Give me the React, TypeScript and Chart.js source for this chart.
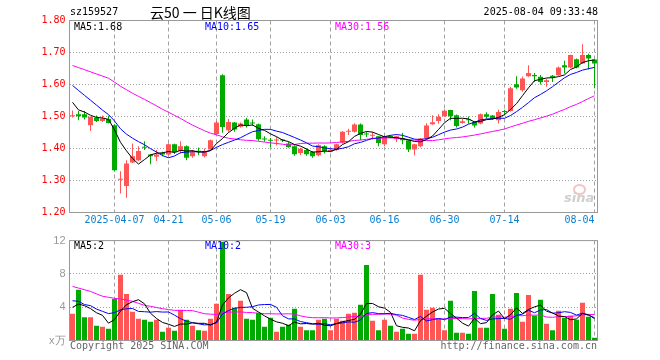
import React, { useEffect, useRef } from 'react';
import { Chart, registerables } from 'chart.js';

Chart.register(...registerables);

// ---- data ----
const dates = [
  '2025-03-26','2025-03-27','2025-03-28','2025-03-31','2025-04-01','2025-04-02','2025-04-03','2025-04-07',
  '2025-04-08','2025-04-09','2025-04-10','2025-04-11','2025-04-14','2025-04-15','2025-04-16','2025-04-17',
  '2025-04-21','2025-04-22','2025-04-23','2025-04-24','2025-04-25','2025-04-28','2025-04-29','2025-04-30',
  '2025-05-06','2025-05-07','2025-05-08','2025-05-09','2025-05-12','2025-05-13','2025-05-14','2025-05-15',
  '2025-05-16','2025-05-19','2025-05-20','2025-05-21','2025-05-22','2025-05-23','2025-05-26','2025-05-27',
  '2025-05-28','2025-05-29','2025-05-30','2025-06-03','2025-06-04','2025-06-05','2025-06-06','2025-06-09',
  '2025-06-10','2025-06-11','2025-06-12','2025-06-13','2025-06-16','2025-06-17','2025-06-18','2025-06-19',
  '2025-06-20','2025-06-23','2025-06-24','2025-06-25','2025-06-26','2025-06-27','2025-06-30','2025-07-01',
  '2025-07-02','2025-07-03','2025-07-04','2025-07-07','2025-07-08','2025-07-09','2025-07-10','2025-07-11',
  '2025-07-14','2025-07-15','2025-07-16','2025-07-17','2025-07-18','2025-07-21','2025-07-22','2025-07-23',
  '2025-07-24','2025-07-25','2025-07-28','2025-07-29','2025-07-30','2025-07-31','2025-08-01','2025-08-04',
];

const tickDates = ['2025-04-07','2025-04-21','2025-05-06','2025-05-19','2025-06-03','2025-06-16','2025-06-30','2025-07-14','2025-08-04'];
const tickLabels = ['2025-04-07','04-21','05-06','05-19','06-03','06-16','06-30','07-14','08-04'];

const opens = [
  1.501,1.507,1.507,1.473,1.496,1.486,1.492,1.473,1.302,1.283,1.356,1.363,1.404,1.381,1.374,1.386,
  1.381,1.413,1.392,1.407,1.376,1.392,1.376,1.397,1.445,1.629,1.457,1.481,1.468,1.491,1.479,1.476,
  1.429,1.425,1.425,1.426,1.416,1.407,1.386,1.395,1.389,1.379,1.407,1.390,1.395,1.418,1.452,1.452,
  1.475,1.445,1.440,1.438,1.413,1.437,1.429,1.433,1.426,1.397,1.407,1.433,1.476,1.486,1.501,1.520,
  1.504,1.480,1.489,1.483,1.478,1.507,1.503,1.488,1.515,1.517,1.601,1.582,1.626,1.630,1.624,1.608,
  1.627,1.629,1.660,1.653,1.679,1.666,1.692,1.678,
];
const highs = [
  1.519,1.517,1.517,1.499,1.503,1.503,1.502,1.476,1.329,1.363,1.416,1.407,1.423,1.382,1.395,1.390,
  1.416,1.415,1.423,1.409,1.395,1.403,1.400,1.428,1.487,1.632,1.492,1.483,1.481,1.496,1.491,1.478,
  1.438,1.433,1.436,1.430,1.421,1.410,1.402,1.400,1.392,1.413,1.410,1.399,1.415,1.455,1.462,1.479,
  1.478,1.452,1.452,1.440,1.442,1.442,1.440,1.449,1.428,1.415,1.433,1.479,1.504,1.507,1.522,1.521,
  1.506,1.493,1.500,1.486,1.509,1.513,1.505,1.521,1.521,1.593,1.626,1.625,1.660,1.636,1.630,1.618,
  1.630,1.656,1.674,1.693,1.681,1.726,1.696,1.678,
];
const lows = [
  1.497,1.488,1.491,1.455,1.483,1.483,1.478,1.329,1.259,1.246,1.355,1.361,1.395,1.351,1.361,1.376,
  1.378,1.383,1.384,1.363,1.371,1.379,1.372,1.394,1.444,1.449,1.452,1.452,1.465,1.466,1.471,1.424,
  1.421,1.405,1.410,1.420,1.402,1.377,1.380,1.377,1.371,1.376,1.384,1.388,1.393,1.415,1.442,1.450,
  1.426,1.436,1.428,1.407,1.408,1.432,1.420,1.413,1.389,1.379,1.404,1.430,1.474,1.477,1.499,1.488,
  1.466,1.477,1.477,1.466,1.476,1.493,1.490,1.478,1.505,1.515,1.587,1.577,1.624,1.608,1.600,1.593,
  1.608,1.627,1.634,1.651,1.651,1.664,1.647,1.588,
];
const closes = [
  1.502,1.501,1.497,1.499,1.486,1.494,1.480,1.332,1.304,1.353,1.376,1.392,1.402,1.376,1.381,1.381,
  1.413,1.388,1.407,1.371,1.388,1.390,1.392,1.426,1.481,1.467,1.483,1.459,1.478,1.470,1.478,1.429,
  1.428,1.424,1.426,1.425,1.405,1.382,1.399,1.382,1.376,1.410,1.392,1.395,1.413,1.452,1.454,1.475,
  1.442,1.444,1.441,1.417,1.438,1.436,1.438,1.426,1.397,1.413,1.431,1.472,1.482,1.499,1.518,1.501,
  1.470,1.485,1.488,1.472,1.507,1.499,1.494,1.514,1.514,1.588,1.591,1.619,1.636,1.626,1.608,1.613,
  1.623,1.653,1.653,1.692,1.653,1.692,1.681,1.666,
];
const volumes = [
  3.2,6.1,2.8,2.8,1.76,1.64,1.4,4.97,7.9,5.6,3.44,2.6,2.48,2.24,2.48,1.04,
  1.52,1.16,3.68,2.48,1.76,1.24,1.16,2.6,4.4,11.85,5.6,3.92,4.76,2.6,2.48,3.32,
  1.64,2.72,1.04,1.64,1.88,3.8,1.64,1.24,1.24,2.48,2.6,1.24,2.6,2.36,3.2,3.32,
  4.28,9.08,2.36,1.24,2.48,1.76,1.04,1.4,0.8,0.8,7.9,3.68,3.92,2.6,1.24,4.76,
  0.92,0.92,0.8,5.96,1.52,1.52,5.6,3.08,1.4,3.8,5.72,2.24,5.48,2.96,4.88,2.0,
  1.24,3.56,2.72,2.96,2.48,4.52,2.84,0.32,
];
// closes / volumes of the 29 sessions before the first visible one (only feed the moving averages)
const priorCloses = [
  1.70,1.69,1.70,1.69,1.69,1.68,1.70,1.69,1.68,1.70,1.69,1.68,1.68,1.69,1.70,1.69,1.68,1.69,1.70,1.69,
  1.66,1.65,1.65,1.64,1.65,1.62,1.53,1.55,1.52,
];
const priorVolumes = [
  12.1,8.8,8.8,10.5,10.3,5.2,8.7,10.3,9.8,7.6,9.95,9.8,5.5,6.8,5.4,4.5,4.2,4.0,2.8,2.1,
  6.8,6.7,4.1,5.9,4.35,4.1,3.8,4.55,4.26,
];

// ---- helpers ----
function movingAverage(values: number[], prior: number[], n: number): number[] {
  const all = prior.concat(values);
  const P = prior.length;
  return values.map((_, i) => {
    let s = 0;
    for (let k = i + P - n + 1; k <= i + P; k++) s += all[k];
    return s / n;
  });
}

const UP = '#ff5555';
const DOWN = '#00aa00';
const MONO = "'DejaVu Sans Mono', 'Liberation Mono', monospace";
const GRID_DASH = '#a0a0a0';
const GRID_DOT = '#a0a0a0';

const candleColors = closes.map((c, i) => (c >= opens[i] ? UP : DOWN));
const ma5 = movingAverage(closes, priorCloses, 5);
const ma10 = movingAverage(closes, priorCloses, 10);
const ma30 = movingAverage(closes, priorCloses, 30);
const vma5 = movingAverage(volumes, priorVolumes, 5);
const vma10 = movingAverage(volumes, priorVolumes, 10);
const vma30 = movingAverage(volumes, priorVolumes, 30);

const framePlugin = {
  id: 'frame',
  afterDraw(chart: any) {
    const { ctx, chartArea: a } = chart;
    ctx.save();
    ctx.strokeStyle = '#999999';
    ctx.lineWidth = 1;
    ctx.strokeRect(a.left, a.top, a.right - a.left, a.bottom - a.top);
    ctx.restore();
  },
};

function xScale(showLabels: boolean, height: number) {
  return {
    type: 'category' as const,
    offset: true,
    afterBuildTicks: (axis: any) => {
      axis.ticks = tickDates.map((d) => ({ value: dates.indexOf(d) }));
    },
    afterFit: (s: any) => {
      s.height = height;
    },
    grid: {
      offset: false,
      drawTicks: false,
      color: GRID_DASH,
      lineWidth: 1,
    },
    border: { display: false, dash: [4, 3] },
    ticks: {
      display: showLabels,
      autoSkip: false,
      maxRotation: 0,
      padding: 2,
      color: '#0a7fd0',
      font: { family: MONO, size: 10 },
      callback: (value: any) => {
        const k = tickDates.indexOf(dates[value as number]);
        const label = tickLabels[k];
        // the last label sits left of its tick, inside the frame
        return k === tickLabels.length - 1 ? label + ' '.repeat(label.length) : label;
      },
    },
  };
}

function lineDs(data: number[], color: string) {
  return {
    type: 'line' as const,
    data,
    borderColor: color,
    borderWidth: 1,
    pointRadius: 0,
    tension: 0,
    fill: false,
    order: 1,
  };
}

export default function App() {
  const mainRef = useRef<HTMLCanvasElement>(null);
  const volRef = useRef<HTMLCanvasElement>(null);

  useEffect(() => {
    const main = new Chart(mainRef.current as HTMLCanvasElement, {
      type: 'bar',
      data: {
        labels: dates,
        datasets: [
          lineDs(ma5, '#000000'),
          lineDs(ma10, '#0000ff'),
          lineDs(ma30, '#ff00ff'),
          {
            type: 'bar',
            data: opens.map((o, i) => [o, closes[i]]),
            backgroundColor: candleColors,
            barThickness: 5,
            grouped: false,
            minBarLength: 1,
            inflateAmount: 0,
            borderWidth: 0,
            order: 2,
          } as any,
          {
            type: 'bar',
            data: lows.map((l, i) => [l, highs[i]]),
            backgroundColor: candleColors,
            barThickness: 1,
            grouped: false,
            minBarLength: 1,
            inflateAmount: 0,
            borderWidth: 0,
            order: 3,
          } as any,
        ],
      },
      options: {
        animation: false,
        responsive: false,
        maintainAspectRatio: false,
        events: [],
        layout: { padding: { left: 0, right: 62.5, top: 20.5, bottom: 0 } },
        plugins: { legend: { display: false }, tooltip: { enabled: false } },
        scales: {
          x: xScale(true, 17.5) as any,
          y: {
            min: 1.2,
            max: 1.8,
            afterFit: (s: any) => {
              s.width = 69.5;
            },
            grid: { drawTicks: false, color: GRID_DOT, lineWidth: 1 },
            border: { display: false, dash: [1, 2] },
            ticks: {
              stepSize: 0.1,
              padding: 4,
              color: '#ff0000',
              font: { family: MONO, size: 10 },
              callback: (v: any) => Number(v).toFixed(2),
            },
          },
        },
      },
      plugins: [framePlugin],
    });

    const vol = new Chart(volRef.current as HTMLCanvasElement, {
      type: 'bar',
      data: {
        labels: dates,
        datasets: [
          lineDs(vma5, '#000000'),
          lineDs(vma10, '#0000ff'),
          lineDs(vma30, '#ff00ff'),
          {
            type: 'bar',
            data: volumes,
            backgroundColor: candleColors,
            barThickness: 5,
            inflateAmount: 0,
            borderWidth: 0,
            order: 2,
          } as any,
        ],
      },
      options: {
        animation: false,
        responsive: false,
        maintainAspectRatio: false,
        events: [],
        layout: { padding: { left: 0, right: 62.5, top: 10.5, bottom: 0 } },
        plugins: { legend: { display: false }, tooltip: { enabled: false } },
        scales: {
          x: xScale(false, 19.5) as any,
          y: {
            min: 0,
            max: 12,
            afterFit: (s: any) => {
              s.width = 69.5;
            },
            grid: { drawTicks: false, color: GRID_DOT, lineWidth: 1 },
            border: { display: false, dash: [1, 2] },
            ticks: {
              stepSize: 4,
              padding: 4,
              color: '#999999',
              font: { family: "'Liberation Sans', Arial, sans-serif", size: 11 },
              callback: (v: any) => (Number(v) === 0 ? 'x万' : String(v)),
            },
          },
        },
      },
      plugins: [framePlugin],
    });

    return () => {
      main.destroy();
      vol.destroy();
    };
  }, []);

  const last = closes.length - 1;
  const txt = (extra: React.CSSProperties): React.CSSProperties => ({
    position: 'absolute',
    fontFamily: MONO,
    fontSize: 10,
    lineHeight: '12px',
    whiteSpace: 'pre',
    ...extra,
  });

  return (
    <div
      style={{
        position: 'fixed',
        left: 0,
        top: 0,
        width: 660,
        height: 360,
        background: '#ffffff',
        overflow: 'hidden',
      }}
    >
      <canvas
        ref={mainRef}
        width={660}
        height={230}
        style={{ position: 'absolute', left: 0, top: 0, width: 660, height: 230 }}
      />
      <canvas
        ref={volRef}
        width={660}
        height={130}
        style={{ position: 'absolute', left: 0, top: 230, width: 660, height: 130 }}
      />
      <div style={txt({ left: 70, top: 6, color: '#000' })}>sz159527</div>
      <div
        style={{
          position: 'absolute',
          left: 150,
          top: 3,
          fontFamily: "'Noto Sans CJK SC', sans-serif",
          fontSize: 14,
          lineHeight: '18px',
          whiteSpace: 'pre',
          color: '#000',
        }}
      >
        云50 一 日K线图
      </div>
      <div style={txt({ right: 62, top: 6, color: '#000' })}>2025-08-04 09:33:48</div>

      <div style={txt({ left: 74, top: 21, color: '#000' })}>{`MA5:${ma5[last].toFixed(2)}`}</div>
      <div style={txt({ left: 205, top: 21, color: '#0000ff' })}>{`MA10:${ma10[last].toFixed(2)}`}</div>
      <div style={txt({ left: 335, top: 21, color: '#ff00ff' })}>{`MA30:${ma30[last].toFixed(2)}`}</div>

      <div style={txt({ left: 74, top: 240, color: '#000' })}>{`MA5:${Math.floor(vma5[last])}`}</div>
      <div style={txt({ left: 205, top: 240, color: '#0000ff' })}>{`MA10:${Math.floor(vma10[last])}`}</div>
      <div style={txt({ left: 335, top: 240, color: '#ff00ff' })}>{`MA30:${Math.floor(vma30[last])}`}</div>

      <div style={txt({ left: 70, top: 340, color: '#666' })}>Copyright 2025 SINA.COM</div>
      <div style={txt({ right: 63, top: 340, color: '#666' })}>http://finance.sina.com.cn</div>

      <div
        style={{
          position: 'absolute',
          left: 573,
          top: 184,
          width: 9,
          height: 7,
          border: '2px solid #f3c4c4',
          borderRadius: '50%',
        }}
      />
      <div
        style={{
          position: 'absolute',
          left: 564,
          top: 191,
          fontFamily: "'DejaVu Sans', sans-serif",
          fontStyle: 'italic',
          fontWeight: 'bold',
          fontSize: 13,
          lineHeight: '14px',
          color: '#cfcfcf',
        }}
      >
        sina
      </div>
    </div>
  );
}
